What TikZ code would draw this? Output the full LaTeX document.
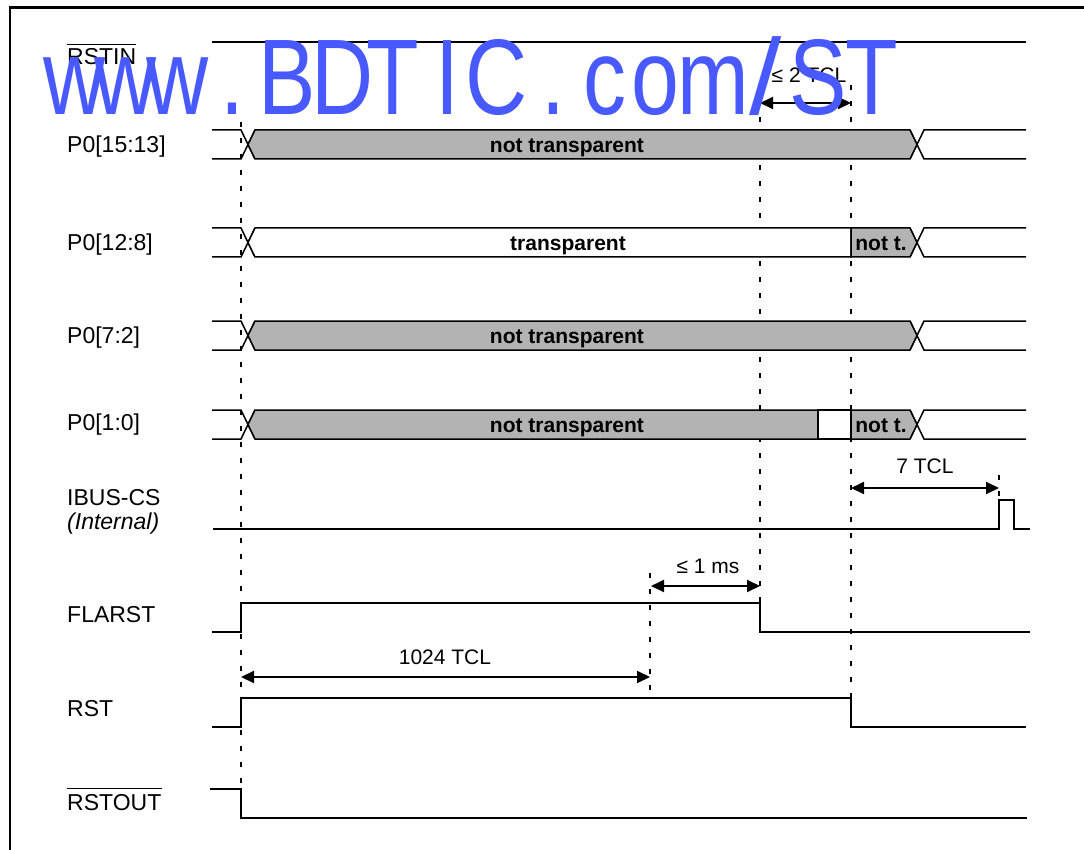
\documentclass[tikz,border=0pt]{standalone}
\usepackage{fontspec}
\setmainfont{Liberation Sans}
\usetikzlibrary{arrows.meta}
\definecolor{busgrey}{RGB}{179,179,179}
\definecolor{wmblue}{RGB}{72,90,255}
\begin{document}
\begin{tikzpicture}[x=1pt,y=-1pt,
  sig/.style={line width=2pt, line join=miter},
  busline/.style={line width=1.5pt, line join=miter},
  guide/.style={line width=1.8pt, dash pattern=on 5pt off 11pt},
  meas/.style={line width=2pt, {Triangle[length=13pt,width=12pt]}-{Triangle[length=13pt,width=12pt]}},
  lbl/.style={anchor=base west, inner sep=0pt, font=\fontsize{23}{27}\selectfont},
  bustxt/.style={anchor=base, inner sep=0pt, font=\fontsize{21}{25}\selectfont\bfseries},
  mtxt/.style={anchor=base, inner sep=0pt, font=\fontsize{21}{25}\selectfont},
  wmchar/.style={anchor=base, inner sep=0pt, text=wmblue, font=\fontsize{107.5}{110}\selectfont, xscale=0.8},
]
\useasboundingbox (0,0) rectangle (1084,850);
% frame
\draw[line width=2.5pt] (10,852) -- (10,7.3) -- (1086,7.3);

% labels
\node[lbl] (lrstin) at (67,65) {RSTIN};
\draw[line width=1.5pt] ([yshift=4pt]lrstin.north west) -- ([yshift=4pt]lrstin.north east);
\node[lbl] (lp1) at (67,152.5) {P0[15:13]};
\node[lbl] (lp2) at (67,250.5) {P0[12:8]};
\node[lbl] (lp3) at (67,343.5) {P0[7:2]};
\node[lbl] (lp4) at (67,430) {P0[1:0]};
\node[lbl] (libus) at (67,505) {IBUS-CS};
\node[lbl] (lint) at (67,529) {\itshape (Internal)};
\node[lbl] (lfla) at (67,622) {FLARST};
\node[lbl] (lrst) at (67,716.7) {RST};
\node[lbl] (lrstout) at (67,810) {RSTOUT};
\draw[line width=1.5pt] ([yshift=5pt]lrstout.north west) -- ([yshift=5pt]lrstout.north east);

% guides
\draw[guide] (241,122) -- (241,789);
\draw[guide] (760,85) -- (760,603);
\draw[guide] (851,85) -- (851,698);
\draw[guide] (650,573) -- (650,698);
\draw[guide] (999,475) -- (999,500);

% bus stubs and crossings
\foreach \yt/\yb in {130/159, 228/257, 321/350, 410/439}{
  \draw[busline] (212,\yt) -- (241,\yt) -- (255,\yb);
  \draw[busline] (212,\yb) -- (241,\yb) -- (255,\yt);
  \draw[busline] (910,\yt) -- (924,\yb) -- (1026,\yb);
  \draw[busline] (910,\yb) -- (924,\yt) -- (1026,\yt);
}
% P0[15:13]
\draw[busline, fill=busgrey] (255,130) -- (910,130) -- (917,144.5) -- (910,159) -- (255,159) -- (248,144.5) -- cycle;
\node[bustxt] (t1) at (567,152.3) {not transparent};
% P0[12:8]
\draw[busline, fill=white] (255,228) -- (851,228) -- (851,257) -- (255,257) -- (248,242.5) -- cycle;
\draw[busline, fill=busgrey] (851,228) -- (910,228) -- (917,242.5) -- (910,257) -- (851,257) -- cycle;
\node[bustxt] (t2) at (568,250.3) {transparent};
\node[bustxt] (t2b) at (881,250.3) {not t.};
% P0[7:2]
\draw[busline, fill=busgrey] (255,321) -- (910,321) -- (917,335.5) -- (910,350) -- (255,350) -- (248,335.5) -- cycle;
\node[bustxt] (t3) at (567,343.3) {not transparent};
% P0[1:0]
\draw[busline, fill=busgrey] (255,410) -- (818,410) -- (818,439) -- (255,439) -- (248,424.5) -- cycle;
\draw[busline, fill=white] (818,410) rectangle (851,439);
\draw[busline, fill=busgrey] (851,410) -- (910,410) -- (917,424.5) -- (910,439) -- (851,439) -- cycle;
\node[bustxt] (t4) at (567,432.3) {not transparent};
\node[bustxt] (t4b) at (881,432.3) {not t.};

% signals
\draw[sig] (212,42) -- (1026,42);
\draw[sig] (213,529) -- (999,529) -- (999,500) -- (1014,500) -- (1014,529) -- (1030,529);
\draw[sig] (212,632) -- (241,632) -- (241,603) -- (760,603) -- (760,632) -- (1030,632);
\draw[sig] (212,727) -- (241,727) -- (241,698) -- (851,698) -- (851,727) -- (1026,727);
\draw[sig] (210,789) -- (241,789) -- (241,818) -- (1027,818);

% measurements
\coordinate (m1a) at (760,103); \coordinate (m1b) at (851,103);
\draw[meas] (m1a) -- (m1b);
\node[mtxt] (m1t) at (809,83) {≤ 2 TCL};
\coordinate (m2a) at (851,488); \coordinate (m2b) at (999,488);
\draw[meas] (m2a) -- (m2b);
\node[mtxt] (m2t) at (925,473) {7 TCL};
\coordinate (m3a) at (651,586); \coordinate (m3b) at (760,586);
\draw[meas] (m3a) -- (m3b);
\node[mtxt] (m3t) at (708,573) {≤ 1 ms};
\coordinate (m4a) at (241,677); \coordinate (m4b) at (650,677);
\draw[meas] (m4a) -- (m4b);
\node[mtxt] (m4t) at (445,664.5) {1024 TCL};

% watermark
\foreach \ch/\cx [count=\i] in {w/74.5, w/125.5, w/177.5, ./232.5, B/287.5, D/342.5, T/392.5, I/447.5, C/496.5, ./553.5, c/605, o/655, m/713.5, S/818.5, T/871.5}{
  \node[wmchar] (wm\i) at (\cx,115) {\ch};
}
\node[wmchar, xscale=1.35] (wmslash) at (765.5,115) {/};
\end{tikzpicture}
\end{document}
